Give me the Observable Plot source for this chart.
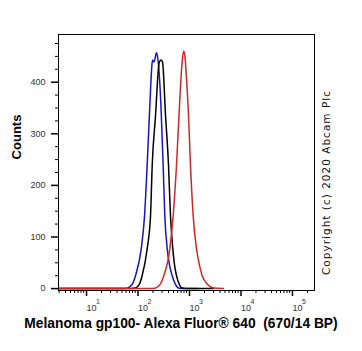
<!DOCTYPE html>
<html>
<head>
<meta charset="utf-8">
<script src="https://cdn.jsdelivr.net/npm/d3@7"></script>
<script src="https://cdn.jsdelivr.net/npm/@observablehq/plot@0.6"></script>
<style>
  html, body { margin: 0; padding: 0; background: #fff; }
  #chart svg { display: block; }
</style>
</head>
<body>
<div id="chart"></div>
<script>
// ---- data ----
const blueX  = [3, 55, 66.8, 80, 91.4, 118, 137, 154, 173, 193, 198, 209, 234, 250, 286, 315, 339, 378, 420, 472, 540, 625, 800, 1500];
const blueY  = [0, 0, 2, 9, 25, 77, 141, 239, 352, 439, 443, 439, 457, 443, 352, 239, 141, 77, 45, 25, 9, 1, 0, 0];
const blackX = [3, 75, 91.4, 108, 123, 154, 179, 193, 224, 259, 275, 288, 306, 350, 400, 437, 485, 525, 572, 650, 738, 1000, 3000];
const blackY = [0, 0, 1, 8, 25, 77, 141, 239, 336, 433, 442, 443, 439, 336, 239, 141, 77, 45, 25, 8, 1, 0, 0];
const redX   = [3, 180, 224, 275, 324, 424, 493, 572, 640, 715, 760, 792, 830, 874, 978, 1069, 1207, 1399, 1600, 1805, 2300, 2993, 4677];
const redY   = [0, 0, 1, 8, 25, 77, 141, 239, 336, 423, 452, 460, 452, 423, 336, 239, 141, 77, 45, 25, 8, 1, 0];

const xMajor = [10, 100, 1000, 10000, 100000];
const xExpLabels = ["1", "2", "3", "4", "5"];
const yMajor = [0, 100, 200, 300, 400];
const yMinor = [25, 50, 75, 125, 150, 175, 225, 250, 275, 325, 350, 375, 425, 450, 475];
const xTitle = "Melanoma gp100- Alexa Fluor® 640  (670/14 BP)";
const yTitle = "Counts";
const copyright = "Copyright (c) 2020 Abcam Plc";

const xDomain = [2.92, 274000];
const yDomain = [-3.7, 492.4];

const xMinor = [];
[1, 10, 100, 1000, 10000, 100000].forEach(dec => {
  for (let m = 2; m <= 9; m++) {
    const v = dec * m;
    if (v >= xDomain[0] && v <= xDomain[1]) xMinor.push(v);
  }
});

const toPts = (xs, ys) => xs.map((x, i) => ({x, y: ys[i]}));
const expOf = d => xExpLabels[xMajor.indexOf(d)];

const svg = Plot.plot({
  width: 362,
  height: 351,
  marginLeft: 58,
  marginRight: 48,
  marginTop: 34,
  marginBottom: 61,
  style: {fontFamily: "'Liberation Sans', Arial, sans-serif", background: "#fff", color: "#000"},
  x: {type: "log", domain: xDomain},
  y: {domain: yDomain},
  marks: [
    Plot.line(toPts(blueX, blueY), {x: "x", y: "y", stroke: "#1616c4", strokeWidth: 1.5, curve: "monotone-x"}),
    Plot.line(toPts(blackX, blackY), {x: "x", y: "y", stroke: "#000000", strokeWidth: 1.5, curve: "monotone-x"}),
    Plot.line(toPts(redX, redY), {x: "x", y: "y", stroke: "#d02828", strokeWidth: 1.5, curve: "monotone-x"}),
    Plot.frame({stroke: "#000", strokeWidth: 1}),
    Plot.axisY(yMajor, {tickSize: 7, tickPadding: 6, fontSize: 9, fill: "#333", strokeWidth: 1.5, label: null}),
    Plot.axisY(yMinor, {tickSize: 3, tickFormat: () => "", label: null}),
    Plot.axisX(xMajor, {tickSize: 6, tickPadding: 8, strokeWidth: 1.5, tickFormat: () => "10", textAnchor: "start", dx: 0.5, fontSize: 9, fill: "#333", label: null}),
    Plot.axisX(xMajor, {tickSize: 0, tickPadding: 9, tickFormat: expOf, textAnchor: "start", dx: 10, dy: -0.5, fontSize: 7, fill: "#333", label: null}),
    Plot.axisX(xMinor, {tickSize: 3, tickFormat: () => "", label: null})
  ]
});

const s = d3.select(svg);
s.append("text")
  .attr("x", 181).attr("y", 328)
  .attr("text-anchor", "middle")
  .attr("font-family", "'Liberation Sans', Arial, sans-serif")
  .attr("font-weight", "bold").attr("font-size", 13.8)
  .style("white-space", "pre")
  .attr("fill", "#000")
  .text(xTitle);
s.append("text")
  .attr("transform", "translate(21,137) rotate(-90)")
  .attr("text-anchor", "middle")
  .attr("font-family", "'Liberation Sans', Arial, sans-serif")
  .attr("font-weight", "bold").attr("font-size", 13)
  .attr("fill", "#000")
  .text(yTitle);
s.append("text")
  .attr("transform", "translate(330,183) rotate(-90)")
  .attr("text-anchor", "middle")
  .attr("font-family", "'DejaVu Sans', sans-serif")
  .attr("font-size", 10.5)
  .attr("textLength", 184).attr("lengthAdjust", "spacing")
  .attr("fill", "#111")
  .text(copyright);

document.getElementById("chart").appendChild(svg);
</script>
</body>
</html>
